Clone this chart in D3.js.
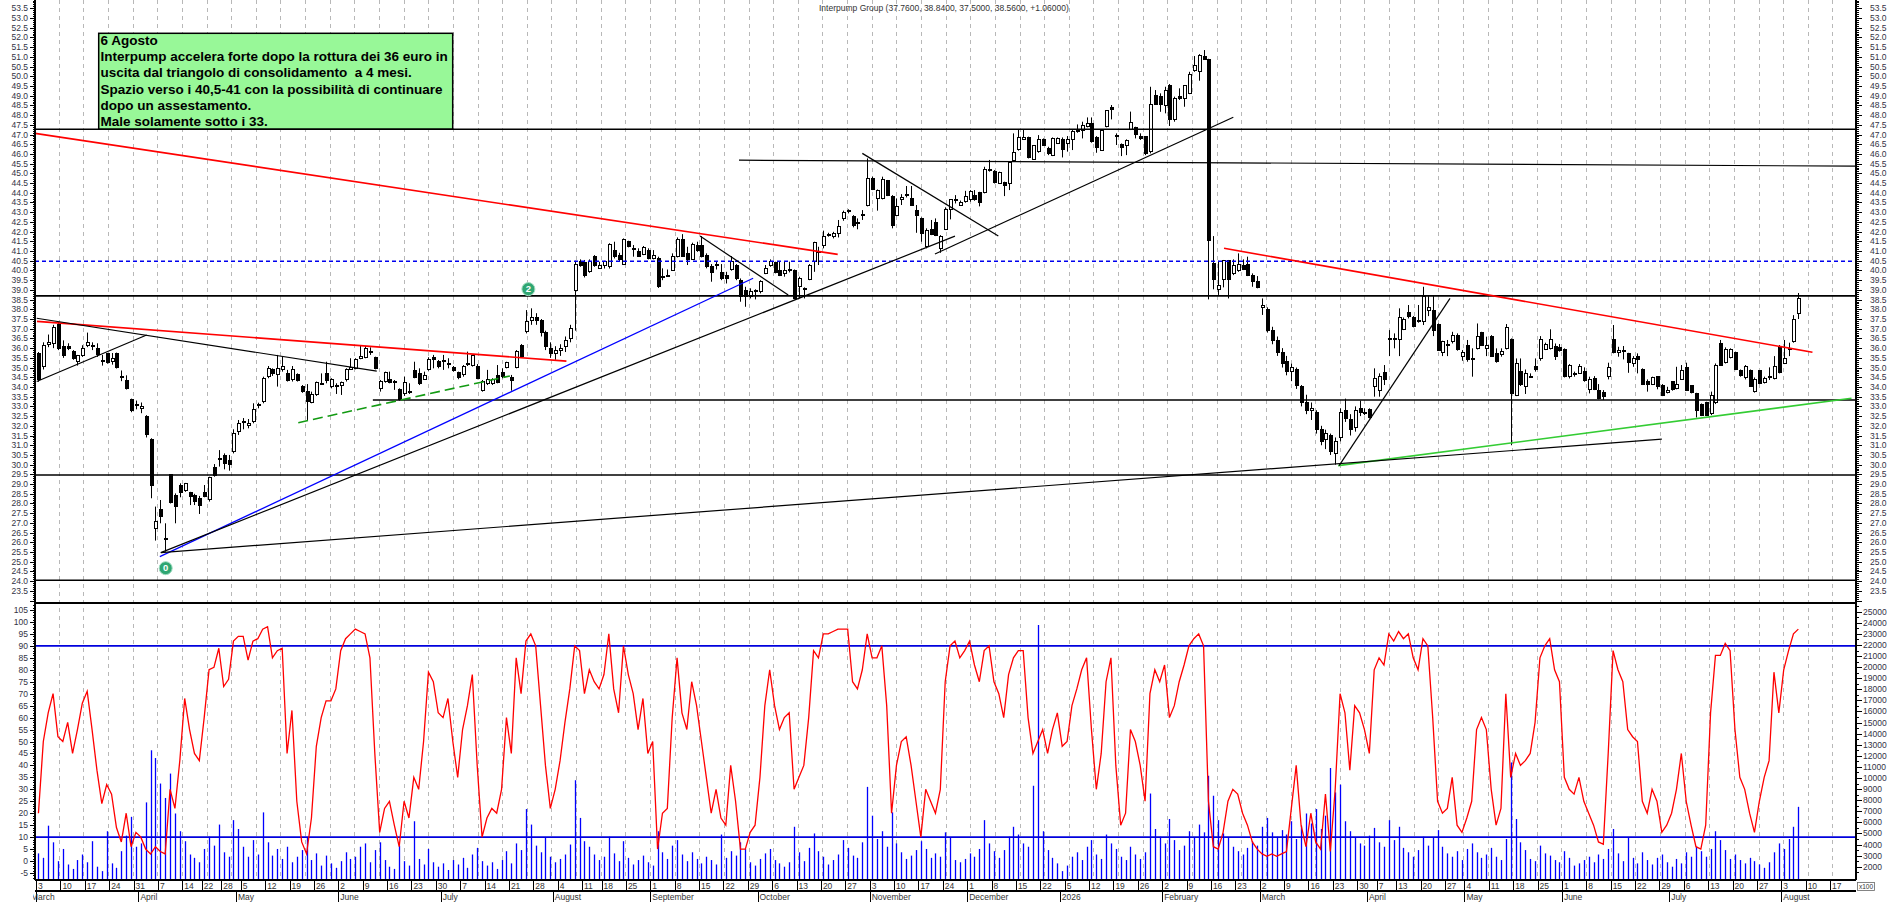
<!DOCTYPE html>
<html>
<head>
<meta charset="utf-8">
<title>Interpump Group</title>
<script src="https://cdn.jsdelivr.net/npm/d3@7"></script>
<style>
  body { margin: 0; background: #ffffff; }
  svg { display: block; font-family: Arial, "Liberation Sans", sans-serif; }
  .tick-label { font-size: 8.5px; fill: #333344; }
  .date-label { font-size: 8.5px; fill: #333333; }
  .note text { font-size: 13.5px; font-weight: bold; fill: #000; white-space: pre; }
</style>
</head>
<body>
<svg id="chart" width="1890" height="902"></svg>
<script>
// ---------------------------------------------------------------------------
// Data (daily bars, Borsa Italiana sessions)
// ---------------------------------------------------------------------------
const firstSession = "2025-03-03";
const calendarEnd = "2026-08-31";
const holidays = ["2025-04-18", "2025-04-21", "2025-05-01", "2025-08-15", "2025-12-24", "2025-12-25",
  "2025-12-26", "2025-12-31", "2026-01-01", "2026-04-03", "2026-04-06", "2026-05-01"];

const titleText = "Interpump Group (37.7600, 38.8400, 37.5000, 38.5600, +1.06000)";

// open, high, low, close
const ohlc = [
  // March 2025
  [35.73,35.8,34.27,34.4],[35.05,36.3,34.9,36.16],[36.2,36.7,36.05,36.3],[36.25,37.2,36.0,37.07],[37.24,37.35,35.9,35.99],
  [36.1,36.4,35.5,35.6],[36.1,36.25,35.9,36.0],[35.85,35.9,35.4,35.45],[35.3,35.65,35.1,35.6],[35.6,36.15,35.55,36.0],
  [36.16,36.8,36.05,36.3],[36.16,36.3,35.9,36.1],[36.0,36.25,35.55,35.65],[35.35,35.65,35.1,35.3],[35.7,35.75,35.2,35.25],
  [35.3,35.75,35.15,35.45],[35.7,35.77,34.95,35.0],[34.55,34.85,34.3,34.5],[34.35,34.6,33.87,33.93],[33.33,33.4,32.7,32.78],
  [33.1,33.3,32.85,33.05],
  // April
  [32.9,33.2,32.65,33.0],[32.5,32.55,31.4,31.53],[31.27,31.36,28.27,28.95],[26.72,27.84,26.09,27.07],[27.67,28.18,26.98,27.32],
  [26.2,26.98,25.52,26.17],[29.47,29.5,28.0,28.04],[28.39,28.52,26.98,27.84],[28.95,29.04,28.32,28.56],[28.66,29.06,28.6,29.04],
  [28.56,28.6,27.92,28.35],[28.39,28.5,27.92,28.1],[28.27,28.39,27.46,27.92],[28.56,28.95,28.32,28.35],[28.18,29.38,28.1,29.35],
  [29.86,30.03,29.38,29.42],[30.3,30.75,29.9,30.28],[30.45,30.58,29.76,30.07],[30.2,30.5,29.69,30.03],[30.67,31.82,30.58,31.61],
  // May
  [31.7,32.3,31.53,32.13],[32.22,32.4,31.82,32.2],[32.0,32.35,31.87,32.13],[32.22,33.16,32.13,32.82],[33.05,33.19,32.9,33.1],
  [33.25,34.53,33.16,34.45],[34.53,35.08,34.45,34.96],[34.88,34.96,34.57,34.67],[34.62,35.65,34.02,34.96],[34.91,35.56,34.79,35.05],
  [34.7,34.88,34.28,34.33],[34.4,35.08,34.28,34.88],[34.62,34.7,34.28,34.33],[34.02,34.1,33.7,33.76],[33.76,34.15,32.3,33.25],
  [33.21,33.76,33.16,33.62],[33.59,34.28,33.54,34.22],[34.2,34.7,34.15,34.19],[34.7,35.3,34.19,34.33],[34.02,34.45,33.93,34.36],
  [34.1,34.19,33.64,34.02],
  // June
  [34.1,34.28,33.59,34.22],[34.36,34.96,34.28,34.88],[34.91,35.48,34.88,35.01],[34.96,35.48,34.91,35.39],[35.48,36.16,35.43,35.56],
  [35.53,36.11,35.48,35.99],[35.85,36.04,35.65,35.82],[35.53,35.56,34.91,34.96],[33.93,34.36,33.76,34.28],[34.28,34.79,34.22,34.74],
  [34.36,34.79,34.19,34.22],[34.3,34.36,33.85,34.28],[33.88,33.93,33.3,33.37],[33.64,34.53,33.54,34.22],[33.78,34.19,33.64,33.76],
  [34.84,35.3,34.45,34.5],[34.7,34.96,34.1,34.16],[34.4,34.79,34.36,34.57],[34.88,35.53,34.84,35.43],[35.53,35.65,34.96,35.39],
  [35.3,35.39,34.96,35.05],
  // July
  [35.38,35.65,34.88,35.36],[35.2,35.48,34.96,35.22],[35.01,35.08,34.79,34.84],[34.74,34.79,34.4,34.5],[34.62,35.13,34.53,35.05],
  [35.2,35.82,35.08,35.18],[35.13,35.65,35.05,35.6],[35.08,35.18,34.4,34.45],[33.81,34.36,33.76,34.28],[34.16,34.88,34.1,34.4],
  [34.16,34.45,34.1,34.36],[34.57,35.13,34.19,34.22],[34.74,34.96,34.45,34.53],[35.01,35.3,34.96,35.25],[34.5,34.62,33.81,34.33],
  [35.01,35.9,34.96,35.82],[36.16,36.21,35.53,35.56],[36.85,37.96,36.76,37.36],[37.4,38.05,37.2,37.6],[37.6,37.8,37.2,37.4],
  [37.4,37.5,36.6,36.8],[36.8,36.9,35.9,36.1],[36.0,36.3,35.5,35.7],
  // August
  [35.7,36.1,35.4,35.9],[35.9,36.2,35.6,36.0],[36.1,36.6,35.8,36.4],[36.5,37.2,36.3,37.0],[38.99,40.5,36.9,40.31],
  [40.45,40.57,40.19,40.28],[40.4,40.54,39.64,39.76],[39.93,40.57,39.88,40.45],[40.74,40.79,40.19,40.28],[40.11,40.45,40.11,40.28],
  [40.23,40.5,40.1,40.45],[40.19,41.4,40.1,41.36],[41.05,41.48,40.62,40.71],[40.79,40.91,40.45,40.54],[40.33,41.65,40.28,41.57],
  [41.48,41.53,41.19,41.22],[41.15,41.31,40.71,41.1],[40.96,41.14,40.71,40.74],[40.84,41.26,40.79,41.19],[41.02,41.14,40.57,40.62],
  // September
  [40.62,41.05,40.57,40.79],[40.62,40.71,39.1,39.16],[39.7,40.11,39.5,39.71],[39.74,40.05,39.68,39.76],[40.02,40.88,39.99,40.74],
  [40.71,41.7,40.67,41.57],[41.6,41.87,40.71,40.74],[40.88,41.22,40.28,40.54],[40.57,41.43,40.54,41.36],[41.31,41.48,40.96,41.05],
  [41.31,41.77,40.67,40.71],[40.79,40.88,40.11,40.19],[40.19,40.33,39.42,39.88],[40.3,40.45,40.05,40.28],[39.9,40.33,39.5,39.59],
  [39.76,39.93,39.33,39.59],[40.05,40.74,39.99,40.45],[40.23,40.33,39.5,39.59],[39.47,39.59,38.39,38.65],[38.99,39.16,38.13,38.65],
  [38.65,39.08,38.56,38.94],[38.97,39.03,38.51,38.99],
  // October
  [38.9,39.5,38.82,39.42],[39.85,40.28,39.81,40.11],[40.23,40.57,40.19,40.45],[40.4,40.45,39.85,39.88],[40.02,40.45,39.71,39.76],
  [39.85,40.45,39.68,39.99],[40.05,40.45,39.9,40.0],[40.02,40.05,38.51,38.56],[39.16,39.68,38.56,39.59],[39.06,39.13,38.56,39.08],
  [39.54,40.33,39.5,40.23],[40.45,41.48,39.93,41.43],[40.96,41.22,40.28,40.96],[41.31,42.05,41.14,41.77],[41.85,41.94,41.74,41.87],
  [41.77,41.99,41.65,41.91],[41.91,42.6,41.7,42.25],[42.68,43.08,42.56,42.97],[43.02,43.15,42.94,43.11],[42.8,42.85,42.22,42.29],
  [42.48,42.68,42.12,42.46],[42.86,43.11,42.6,42.85],[43.37,45.77,43.3,44.74],
  // November
  [44.74,44.83,44.14,44.17],[43.71,44.17,43.08,44.14],[43.71,44.83,43.66,44.66],[44.62,44.66,43.83,43.88],[43.83,43.88,42.17,42.34],
  [42.85,43.71,42.8,43.28],[43.63,43.93,43.37,43.76],[43.9,44.35,43.76,43.88],[43.71,44.35,43.32,43.37],[43.11,43.37,41.94,42.85],
  [42.68,42.73,41.48,41.91],[41.22,42.17,41.14,42.08],[42.12,42.6,41.82,41.87],[42.46,42.68,41.77,41.82],[41.14,41.82,40.91,41.74],
  [42.12,43.25,42.08,43.15],[43.15,43.66,42.63,43.63],[43.65,43.88,43.45,43.66],[43.37,43.6,43.32,43.49],[43.54,44.1,43.49,43.83],
  // December
  [43.63,44.14,43.54,44.05],[43.88,44.14,43.59,43.63],[44.0,44.05,43.3,43.49],[44.0,45.34,43.97,45.2],[45.2,45.69,45.09,45.14],
  [45.09,45.17,44.48,44.52],[44.48,45.09,44.45,45.03],[44.52,44.57,43.83,44.35],[44.48,45.6,44.14,45.55],[45.65,47.06,45.6,46.06],
  [46.23,47.27,46.17,46.85],[46.75,47.27,46.72,46.85],[46.85,46.89,45.77,45.82],[45.72,46.46,45.69,46.41],[46.12,46.97,46.06,46.72],
  [46.72,46.8,46.41,46.46],[46.29,46.37,45.94,46.0],[45.94,46.85,45.89,46.8],[46.54,46.85,46.51,46.8],
  // January 2026
  [46.75,46.85,45.82,46.23],[46.54,46.92,46.12,46.72],[46.72,47.23,46.2,47.14],[47.27,47.52,47.09,47.14],[47.23,47.66,46.8,47.49],
  [47.4,47.88,47.37,47.58],[47.58,47.88,46.58,46.63],[46.85,46.92,46.06,46.34],[46.2,47.23,46.17,47.2],[47.4,48.26,47.37,48.23],
  [48.4,48.52,47.78,48.3],[46.97,47.06,46.46,46.89],[46.51,46.54,45.89,46.34],[46.46,46.75,45.94,46.68],[47.27,48.18,47.23,47.61],
  [47.37,47.4,46.8,47.02],[46.89,47.06,46.72,46.8],[46.89,46.92,45.94,46.0],[46.12,49.46,46.03,48.57],[49.03,49.29,48.52,48.57],
  [48.95,49.12,48.17,48.57],
  // February
  [48.47,49.46,48.09,49.29],[49.55,49.6,47.44,47.75],[47.75,48.95,47.66,48.86],[48.95,49.38,48.78,48.86],[48.86,49.55,48.43,49.5],
  [49.12,50.23,49.08,50.11],[50.29,51.04,50.23,50.58],[50.23,51.14,49.77,51.09],[51.04,51.35,50.84,50.87],[50.84,50.9,38.51,41.53],
  [40.36,41.77,39.03,39.54],[39.03,40.5,38.74,39.2],[39.54,40.54,39.13,40.49],[40.5,40.54,38.56,39.54],[39.85,40.57,39.76,40.23],
  [39.99,40.88,39.93,40.33],[40.28,40.57,40.02,40.06],[40.33,40.71,39.71,39.76],[39.76,39.85,39.16,39.42],[39.42,39.71,39.08,39.13],
  // March
  [38.1,38.56,37.71,38.22],[38.0,38.1,36.8,36.9],[36.9,37.1,36.2,36.4],[36.4,36.6,35.6,35.8],[35.8,36.0,35.0,35.2],
  [35.3,35.6,34.6,34.8],[34.8,35.2,34.3,35.0],[34.9,35.0,33.9,34.1],[34.0,34.1,33.0,33.2],[33.2,33.6,32.6,32.8],
  [32.8,33.2,32.3,32.9],[32.7,32.8,31.6,31.8],[31.8,32.0,31.0,31.2],[31.3,31.8,30.8,31.6],[31.5,31.6,30.5,30.7],
  [30.6,31.4,30.0,31.2],[31.4,32.9,31.2,32.7],[32.8,33.4,32.2,32.4],[32.3,32.6,31.5,31.8],[31.9,33.0,31.7,32.8],
  [32.9,33.3,32.5,32.7],[32.7,32.9,32.55,32.67],
  // April
  [32.85,32.9,32.38,32.43],[34.01,34.96,33.5,34.44],[33.84,34.7,33.5,34.56],[34.73,35.13,34.1,34.36],[36.45,36.93,35.59,36.5],
  [36.5,36.76,35.99,36.45],[36.42,38.05,35.59,37.58],[36.97,37.58,36.93,37.48],[37.82,38.22,37.53,37.62],[37.58,37.65,37.07,37.1],
  [37.4,38.22,37.31,37.41],[37.36,39.16,37.19,38.68],[37.96,38.68,37.65,38.1],[37.93,38.68,36.62,36.9],[37.24,37.27,35.87,35.9],
  [35.76,36.38,35.59,36.33],[36.2,36.42,35.59,36.21],[36.33,36.84,36.24,36.67],[36.67,36.76,35.87,35.93],[35.56,35.9,35.35,35.76],
  // May
  [36.16,36.42,35.3,35.39],[35.45,35.99,34.53,35.47],[35.99,37.27,35.93,36.59],[36.79,36.84,36.11,36.16],[35.99,36.59,35.59,36.16],
  [36.59,36.67,35.56,35.59],[35.7,35.99,35.25,35.3],[35.65,35.99,35.56,35.82],[35.99,37.24,35.93,37.07],[36.45,36.5,31.0,33.67],
  [33.58,35.47,33.53,35.21],[34.79,35.47,34.05,34.15],[34.05,34.9,33.64,34.67],[34.55,34.7,34.49,34.56],[35.04,35.47,34.79,34.9],
  [35.47,36.62,35.35,36.45],[35.93,36.28,35.9,36.21],[35.99,36.97,35.93,36.42],[36.11,36.24,35.39,35.59],[36.04,36.21,35.82,35.87],
  // June
  [35.93,35.99,34.49,34.53],[34.53,35.18,34.44,35.13],[34.66,34.79,34.53,34.67],[34.7,35.18,34.67,35.04],[34.79,35.01,34.27,34.32],
  [33.88,34.53,33.67,34.39],[34.44,34.56,33.84,33.88],[33.81,34.15,33.36,33.41],[33.7,33.84,33.33,33.53],[34.53,35.25,34.39,35.01],
  [36.45,37.19,35.73,35.76],[35.76,36.07,35.56,35.9],[35.9,36.11,35.42,35.82],[35.7,35.76,34.73,35.25],[35.21,35.59,35.04,35.47],
  [35.59,35.73,34.7,35.39],[34.9,34.96,34.1,34.15],[34.27,34.39,33.76,34.15],[34.15,34.53,34.1,34.49],[34.53,34.56,33.88,34.01],
  [34.1,34.15,33.53,33.58],[33.7,34.01,33.67,33.84],
  // July
  [34.27,34.27,33.81,33.88],[33.93,35.04,33.88,34.15],[34.39,35.13,34.36,34.87],[35.01,35.25,33.81,33.84],[34.1,34.1,33.67,33.7],
  [33.67,33.7,32.43,32.81],[33.12,33.15,32.5,32.55],[33.19,33.24,32.5,32.55],[32.64,33.76,32.55,33.58],[33.19,35.21,33.12,35.13],
  [36.24,36.42,35.08,35.13],[35.25,36.04,35.21,35.93],[35.52,35.99,35.47,35.93],[35.76,35.82,34.87,34.9],[34.87,34.9,34.53,34.61],
  [34.49,35.13,34.39,35.04],[34.84,34.9,34.01,34.05],[33.76,34.49,33.71,34.36],[34.84,34.87,34.15,34.18],[34.22,34.53,34.18,34.44],
  [34.56,35.01,34.36,34.49],[34.44,35.59,34.39,35.08],[36.07,36.16,34.7,34.73],
  // August
  [35.21,36.42,35.18,35.47],[35.95,36.28,35.59,35.99],[36.33,37.7,36.28,37.5],[37.76,38.84,37.5,38.56]
];

// %K oscillator (red line, left scale of the lower panel)
const oscillator = [
  20,50,62,70,52,50,58,45,55,66,71,55,38,24,32,28,14,8,20,6,12,
  10,5,3,6,4,3,30,22,42,68,55,45,42,60,80,81,89,73,76,92,
  94,94,84,92,93,97,98,85,88,89,45,63,25,8,3,18,48,60,67,67,72,
  88,93,95,97,96,95,85,45,12,22,25,15,6,25,18,35,30,50,79,75,62,
  60,68,50,35,55,65,78,40,10,18,22,20,30,60,45,85,70,92,95,90,65,40,22,
  30,42,58,72,90,88,70,80,75,72,78,95,72,62,90,78,70,55,68,45,
  50,5,20,22,60,85,62,55,75,65,50,35,20,30,18,15,40,25,5,5,12,15,
  35,65,80,65,55,60,62,30,35,40,60,88,85,95,95,96,97,97,97,75,72,80,95,
  85,85,90,65,20,40,50,52,40,25,10,30,25,20,30,75,90,92,85,88,
  92,82,75,88,90,75,70,60,78,85,88,88,60,45,50,55,45,55,62,
  48,50,65,72,80,85,55,30,45,75,85,40,15,20,55,50,40,25,70,80,75,
  82,60,65,75,82,90,93,95,90,25,6,5,12,25,30,28,20,15,8,5,
  3,2,3,2,3,4,22,40,15,6,20,8,5,28,4,30,70,62,38,65,62,55,
  45,80,85,82,95,92,96,93,95,85,80,93,90,60,25,20,22,35,15,12,
  18,25,55,60,55,30,15,22,70,35,45,40,42,45,58,85,90,93,80,75,
  35,30,28,35,25,20,15,8,7,45,88,80,75,55,52,50,25,20,30,25,12,15,
  20,30,45,25,15,6,5,15,62,86,86,91,88,55,35,30,20,12,25,35,42,79,62,
  80,88,95,97
];

// volume, in hundreds of shares (right scale of the lower panel, "x100")
const volumeX100 = [
  3200,2800,5700,4200,2500,3600,2200,1800,2600,3100, 2400,4300,2000,1600,5200,2300,1900,3400,4800,6500,
  3800,4100,7800,12500,11800,9500,8200,10400,6800,5200, 4300,3100,2800,2400,3600,4700,3900,5800,3300,2900,
  6200,5400,3800,2900,4400,3100,6900,4200,3000,3600, 2700,3800,2400,2900,3500,4600,2600,3200,2100,3000,
  2300,1900,2500,3300,2700,2900,3800,4100,2400,3500, 4200,2600,2000,1800,3900,2500,2100,6100,2700,2200,
  3600,2400,2000,2300,1700,2600,2200,2800,1900,3100, 3700,2500,2100,2400,1800,2600,3400,2300,4100,3500,
  7200,5800,3900,3300,4600,2900,2400,2700,3100,4000, 9800,6400,4300,3800,3100,2600,2900,4700,3200,2500,
  4300,2800,2200,2600,3000,2400,2100,5200,3300,2700, 3900,4400,3100,2500,3300,2700,2300,2900,2600,2200,
  4900,2800,3400,3000,4200,3600,2400,2100,2700,3200, 3600,2600,2300,2000,2400,5600,3300,2500,3700,5000,
  3400,2900,2200,2600,3100,4400,3700,3000,2800,4200, 9200,6600,4500,5200,3800,6900,4100,3300,2700,3000,
  3500,4300,3600,2800,3200,2900,5100,4600,2600,2400, 2700,3200,2900,3600,6200,4100,3400,2800,3500,4700,
  5600,4900,4100,3800,9300,23800,5200,3500,2800,2300, 1600,2100,2900,3300,2600,3800,4400,3100,2700,4900,
  4100,3600,2900,2600,3800,3100,2700,3300,8600,5400, 4700,4100,6300,4400,3500,3900,5200,4600,5800,5100,
  10200,8400,6200,5000,4600,3800,3400,3100,3700,4300, 3900,5600,6400,5100,4700,5300,4900,6100,4500,5700,
  6800,5900,7200,5400,6600,10900,8700,9400,6100,5200, 4600,4100,3900,4800,5500,4200,3800,6200,4400,5600,
  3700,3300,2900,3500,4700,3900,4600,5300,3800,3200, 2900,3400,2600,3600,4100,3300,2800,3100,3700,2900,
  2600,4500,11400,6300,4200,3500,2700,2500,3900,3200, 3000,2600,2400,3400,2800,2100,2300,2600,2900,2400,
  3100,2700,3600,5400,3200,2500,4600,2800,2300,3300, 2600,2200,2800,3100,2400,2000,2700,2300,3300,2900,
  3800,3400,2900,3600,5200,4400,3500,2700,3100,2600, 2300,2800,2500,2200,1900,2400,3300,4100,3600,4500,
  5600,7400
];

// first session of each week shown on the date axis
const weekTicks = [
  "2025-03-03","2025-03-10","2025-03-17","2025-03-24","2025-03-31","2025-04-07","2025-04-14","2025-04-22","2025-04-28",
  "2025-05-05","2025-05-12","2025-05-19","2025-05-26","2025-06-02","2025-06-09","2025-06-16","2025-06-23","2025-06-30",
  "2025-07-07","2025-07-14","2025-07-21","2025-07-28","2025-08-04","2025-08-11","2025-08-18","2025-08-25","2025-09-01",
  "2025-09-08","2025-09-15","2025-09-22","2025-09-29","2025-10-06","2025-10-13","2025-10-20","2025-10-27","2025-11-03",
  "2025-11-10","2025-11-17","2025-11-24","2025-12-01","2025-12-08","2025-12-15","2025-12-22","2026-01-05","2026-01-12",
  "2026-01-19","2026-01-26","2026-02-02","2026-02-09","2026-02-16","2026-02-23","2026-03-02","2026-03-09","2026-03-16",
  "2026-03-23","2026-03-30","2026-04-07","2026-04-13","2026-04-20","2026-04-27","2026-05-04","2026-05-11","2026-05-18",
  "2026-05-25","2026-06-01","2026-06-08","2026-06-15","2026-06-22","2026-06-29","2026-07-06","2026-07-13","2026-07-20",
  "2026-07-27","2026-08-03","2026-08-10","2026-08-17"
];
const monthTickDates = ["2025-03-03","2025-04-01","2025-05-02","2025-06-02","2025-07-01","2025-08-01","2025-09-01",
  "2025-10-01","2025-11-03","2025-12-01","2026-01-02","2026-02-02","2026-03-02","2026-04-01","2026-05-04",
  "2026-06-01","2026-07-01","2026-08-03"];
const monthTickLabels = ["March","April","May","June","July","August","September","October","November","December",
  "2026","February","March","April","May","June","July","August"];

// horizontal price levels drawn on the chart: [price, first bar]
const blackLevels = [[47.27, 0], [38.69, 0], [33.33, 69.1], [29.47, 0], [24.05, 0]];
const blueDashedLevel = 40.48;
const oscillatorBands = [90, 10];

// trend lines: [kind, bar1, price1, bar2, price2]
const trendLines = [
  ["red",    -0.2, 47.06, 164.45, 40.83],
  ["red",     0.2, 37.38, 108.8, 35.33],
  ["black",   0.14, 37.54, 69.9, 34.82],
  ["black",   0.14, 34.28, 22.7, 36.68],
  ["greenDash", 53.8, 32.16, 97.2, 34.57],
  ["blue",   25.4, 25.26, 147.1, 39.6],
  ["black",  25.6, 25.47, 188.5, 41.77],
  ["black", 184.4, 40.85, 245.6, 47.89],
  ["black", 169.5, 46.03, 197.4, 41.77],
  ["black", 136.2, 41.77, 154.3, 38.74],
  ["black", 144.2, 45.68, 373.3, 45.37],
  ["red",   243.7, 41.14, 364.4, 35.79],
  ["green", 267.1, 29.95, 372.4, 33.42],
  ["black",  25.6, 25.47, 333.5, 31.31],
  ["black", 267.3, 29.95, 290.05, 38.56]
];

// numbered pivot markers: [label, bar, price]
const markers = [["0", 26.6, 24.67], ["2", 101.0, 39.04]];

const noteLines = [
  "6 Agosto",
  "Interpump accelera forte dopo la rottura dei 36 euro in",
  "uscita dal triangolo di consolidamento  a 4 mesi.",
  "Spazio verso i 40,5-41 con la possibilità di continuare",
  "dopo un assestamento.",
  "Male solamente sotto i 33."
];

// ---------------------------------------------------------------------------
// Layout
// ---------------------------------------------------------------------------
const W = 1890, H = 902;
const left = 35, right = 1856;
const priceTop = 0, priceBottom = 603, lowerBottom = 880, weekRowBottom = 891;
const barsVisible = 373.33;   // bar slots between the two vertical axes

const svg = d3.select("#chart");

// trading sessions (weekdays minus exchange holidays)
function buildSessions() {
  var fmt = d3.utcFormat("%Y-%m-%d");
  var hol = new Set(holidays);
  var out = [];
  var d = new Date(firstSession + "T00:00:00Z");
  while (fmt(d) <= calendarEnd) {
    var wd = d.getUTCDay();
    if (wd !== 0 && wd !== 6 && !hol.has(fmt(d))) out.push(fmt(d));
    d = d3.utcDay.offset(d, 1);
  }
  return out;
}
const sessions = buildSessions();
const sessionIndex = new Map(sessions.map((s, i) => [s, i]));

// scales
const x = d3.scaleLinear().domain([0, barsVisible]).range([36, right]);
const cx = i => x(i + 0.5);
const yP = d3.scaleLinear().domain([53.5, 24.05]).range([8.3, 580.2]);
const yK = d3.scaleLinear().domain([105, -5]).range([610, 873]);
const yV = d3.scaleLinear().domain([25000, 2000]).range([611.7, 866.7]);

// clip regions
const defs = svg.append("defs");
defs.append("clipPath").attr("id", "clipPrice").append("rect")
  .attr("x", left).attr("y", priceTop).attr("width", right - left).attr("height", priceBottom - priceTop);
defs.append("clipPath").attr("id", "clipLower").append("rect")
  .attr("x", left).attr("y", priceBottom).attr("width", right - left).attr("height", lowerBottom - priceBottom);
defs.append("clipPath").attr("id", "clipDates").append("rect")
  .attr("x", left - 2).attr("y", lowerBottom).attr("width", right - left + 2).attr("height", H - lowerBottom);

svg.append("rect").attr("width", W).attr("height", H).attr("fill", "#ffffff");

// ---------------------------------------------------------------------------
// Vertical dashed grid (fixed pixel pitch in the original)
// ---------------------------------------------------------------------------
const gridX = d3.range(58.7, right, 24.636);
svg.append("g").selectAll("line").data(gridX).join("line")
  .attr("x1", d => Math.round(d) + 0.5).attr("x2", d => Math.round(d) + 0.5)
  .attr("y1", 0).attr("y2", lowerBottom)
  .attr("stroke", "#b8b8b8").attr("stroke-width", 1).attr("stroke-dasharray", "4,4");

// ---------------------------------------------------------------------------
// Price panel
// ---------------------------------------------------------------------------
const pricePanel = svg.append("g").attr("clip-path", "url(#clipPrice)");

// candles
const candles = pricePanel.append("g");
candles.selectAll("line").data(ohlc).join("line")
  .attr("x1", (d, i) => Math.round(cx(i)) + 0.5).attr("x2", (d, i) => Math.round(cx(i)) + 0.5)
  .attr("y1", d => yP(d[1])).attr("y2", d => yP(d[2]))
  .attr("stroke", "#000").attr("stroke-width", 1);
candles.selectAll("rect").data(ohlc).join("rect")
  .attr("x", (d, i) => Math.round(cx(i)) - 1)
  .attr("y", d => yP(Math.max(d[0], d[3])))
  .attr("width", 3)
  .attr("height", d => Math.max(1, Math.abs(yP(d[0]) - yP(d[3]))))
  .attr("fill", d => d[3] >= d[0] ? "#ffffff" : "#000000")
  .attr("stroke", "#000").attr("stroke-width", 1)
  .attr("shape-rendering", "crispEdges");

// horizontal levels
pricePanel.append("g").selectAll("line").data(blackLevels).join("line")
  .attr("x1", d => Math.max(left, x(d[1]))).attr("x2", right)
  .attr("y1", d => yP(d[0])).attr("y2", d => yP(d[0]))
  .attr("stroke", "#000").attr("stroke-width", 1.6);
pricePanel.append("line")
  .attr("x1", left).attr("x2", right)
  .attr("y1", yP(blueDashedLevel)).attr("y2", yP(blueDashedLevel))
  .attr("stroke", "#0000ee").attr("stroke-width", 1.5).attr("stroke-dasharray", "4,3");

// trend lines
const lineStyle = {
  red:       { stroke: "#ff0000", width: 1.6, dash: null },
  black:     { stroke: "#000000", width: 1.2, dash: null },
  blue:      { stroke: "#0000ff", width: 1.3, dash: null },
  green:     { stroke: "#33cc33", width: 1.6, dash: null },
  greenDash: { stroke: "#129a12", width: 1.6, dash: "10,5" }
};
pricePanel.append("g").selectAll("line").data(trendLines).join("line")
  .attr("x1", d => x(d[1])).attr("y1", d => yP(d[2]))
  .attr("x2", d => x(d[3])).attr("y2", d => yP(d[4]))
  .attr("stroke", d => lineStyle[d[0]].stroke)
  .attr("stroke-width", d => lineStyle[d[0]].width)
  .attr("stroke-dasharray", d => lineStyle[d[0]].dash);

// pivot markers
const mk = pricePanel.append("g").selectAll("g").data(markers).join("g")
  .attr("transform", d => "translate(" + x(d[1]) + "," + yP(d[2]) + ")");
mk.append("circle").attr("r", 6.5).attr("fill", "#2fa672").attr("stroke", "#9fdcc0").attr("stroke-width", 1);
mk.append("text").attr("text-anchor", "middle").attr("dy", "3.3px")
  .attr("font-size", "9.5px").attr("font-weight", "bold").attr("fill", "#ffffff")
  .text(d => d[0]);

// ---------------------------------------------------------------------------
// Lower panel: volume bars + oscillator
// ---------------------------------------------------------------------------
const lower = svg.append("g").attr("clip-path", "url(#clipLower)");
lower.append("g").selectAll("line").data(volumeX100).join("line")
  .attr("x1", (d, i) => Math.round(cx(i)) + 0.5).attr("x2", (d, i) => Math.round(cx(i)) + 0.5)
  .attr("y1", lowerBottom).attr("y2", d => Math.max(priceBottom, yV(d)))
  .attr("stroke", "#0000ff").attr("stroke-width", 1.3);

lower.append("g").selectAll("line").data(oscillatorBands).join("line")
  .attr("x1", left).attr("x2", right)
  .attr("y1", d => yK(d)).attr("y2", d => yK(d))
  .attr("stroke", "#0000dd").attr("stroke-width", 1.6);

lower.append("path").datum(oscillator)
  .attr("fill", "none").attr("stroke", "#ff0000").attr("stroke-width", 1.3)
  .attr("d", d3.line().x((d, i) => cx(i)).y(d => yK(d)));

// ---------------------------------------------------------------------------
// Frame and axes
// ---------------------------------------------------------------------------
const frame = svg.append("g").attr("stroke", "#000").attr("shape-rendering", "crispEdges");
frame.append("line").attr("x1", left).attr("x2", left).attr("y1", 0).attr("y2", lowerBottom).attr("stroke-width", 1.5);
frame.append("line").attr("x1", right).attr("x2", right).attr("y1", 0).attr("y2", lowerBottom).attr("stroke-width", 1.5);
frame.append("line").attr("x1", left).attr("x2", right).attr("y1", priceBottom).attr("y2", priceBottom).attr("stroke-width", 1.6);
frame.append("line").attr("x1", left).attr("x2", right).attr("y1", lowerBottom).attr("y2", lowerBottom).attr("stroke-width", 1.6);
frame.append("line").attr("x1", left).attr("x2", right).attr("y1", weekRowBottom).attr("y2", weekRowBottom).attr("stroke-width", 1.4);

// ruler-style ticks on both sides
function ruler(values, scale, minorLen, majorTest) {
  const g = svg.append("g").attr("stroke", "#000").attr("stroke-width", 1).attr("shape-rendering", "crispEdges");
  values.forEach(function (v) {
    var yy = Math.round(scale(v)) + 0.5;
    var len = majorTest(v) ? 5 : minorLen;
    g.append("line").attr("x1", left - len).attr("x2", left).attr("y1", yy).attr("y2", yy);
  });
  return g;
}
const priceMinor = d3.range(230, 540, 1).map(v => v / 10);
ruler(priceMinor, yP, 2.5, v => Math.abs(v * 2 - Math.round(v * 2)) < 1e-6);
// right side price ruler
const rg = svg.append("g").attr("stroke", "#000").attr("stroke-width", 1).attr("shape-rendering", "crispEdges");
priceMinor.forEach(function (v) {
  var yy = Math.round(yP(v)) + 0.5;
  var major = Math.abs(v * 2 - Math.round(v * 2)) < 1e-6;
  rg.append("line").attr("x1", right).attr("x2", right + (major ? 6 : 3)).attr("y1", yy).attr("y2", yy);
});

// oscillator ticks (left)
const kMinor = d3.range(-7, 108, 1).filter(v => yK(v) > priceBottom + 1 && yK(v) < lowerBottom - 1);
ruler(kMinor, yK, 2, v => v % 5 === 0);
// volume ticks (right)
const vMinor = d3.range(1500, 25800, 500).filter(v => yV(v) > priceBottom + 1 && yV(v) < lowerBottom - 1);
vMinor.forEach(function (v) {
  var yy = Math.round(yV(v)) + 0.5;
  rg.append("line").attr("x1", right).attr("x2", right + (v % 1000 === 0 ? 6 : 3)).attr("y1", yy).attr("y2", yy);
});

const fmt1 = d3.format(".1f");
const priceLabels = d3.range(47, 108, 1).map(v => v / 2);
svg.append("g").selectAll("text").data(priceLabels).join("text")
  .attr("class", "tick-label").attr("x", 28).attr("y", d => yP(d) + 3).attr("text-anchor", "end")
  .text(d => fmt1(d));
svg.append("g").selectAll("text").data(priceLabels).join("text")
  .attr("class", "tick-label").attr("x", 1870).attr("y", d => yP(d) + 3)
  .text(d => fmt1(d));

const kLabels = d3.range(-5, 106, 5);
svg.append("g").selectAll("text").data(kLabels).join("text")
  .attr("class", "tick-label").attr("x", 28).attr("y", d => yK(d) + 3).attr("text-anchor", "end")
  .text(d => d);
const vLabels = d3.range(2000, 25001, 1000);
svg.append("g").selectAll("text").data(vLabels).join("text")
  .attr("class", "tick-label").attr("x", 1863).attr("y", d => yV(d) + 3)
  .text(d => d);

// x100 unit box
svg.append("rect").attr("x", 1857.5).attr("y", 882.5).attr("width", 17).attr("height", 8)
  .attr("fill", "#fff").attr("stroke", "#666").attr("stroke-width", 0.8);
svg.append("text").attr("x", 1859).attr("y", 889.2).attr("font-size", "6.5px").attr("fill", "#333").text("x100");

// ---------------------------------------------------------------------------
// Date axis: week row and month row
// ---------------------------------------------------------------------------
const dates = svg.append("g").attr("clip-path", "url(#clipDates)");
const weekIdx = weekTicks.map(s => sessionIndex.get(s));
dates.append("g").selectAll("line").data(weekIdx).join("line")
  .attr("x1", d => Math.round(x(d)) + 0.5).attr("x2", d => Math.round(x(d)) + 0.5)
  .attr("y1", lowerBottom).attr("y2", weekRowBottom)
  .attr("stroke", "#000").attr("stroke-width", 1);
dates.append("g").selectAll("text").data(weekTicks).join("text")
  .attr("class", "date-label")
  .attr("x", d => x(sessionIndex.get(d)) + 2).attr("y", 889)
  .text(d => +d.slice(8, 10));

const monthIdx = monthTickDates.map(s => sessionIndex.get(s));
dates.append("g").selectAll("line").data(monthIdx).join("line")
  .attr("x1", d => Math.round(x(d)) + 0.5).attr("x2", d => Math.round(x(d)) + 0.5)
  .attr("y1", weekRowBottom).attr("y2", H)
  .attr("stroke", "#000").attr("stroke-width", 1);
dates.append("g").selectAll("text").data(monthTickLabels).join("text")
  .attr("class", "date-label")
  .attr("x", (d, k) => x(monthIdx[k]) + (k === 0 ? -5 : 2)).attr("y", 900)
  .text(d => d);

// ---------------------------------------------------------------------------
// Title and comment box
// ---------------------------------------------------------------------------
svg.append("text").attr("x", 819).attr("y", 11).attr("font-size", "8.5px").attr("fill", "#333")
  .text(titleText);

const note = svg.append("g").attr("class", "note");
note.append("rect").attr("x", 98.7).attr("y", 33.3).attr("width", 354).attr("height", 95.7)
  .attr("fill", "#98f898").attr("stroke", "#000").attr("stroke-width", 1.5);
note.selectAll("text").data(noteLines).join("text")
  .attr("x", 100.5).attr("y", (d, k) => 45 + k * 16.2)
  .text(d => d);
</script>
</body>
</html>
